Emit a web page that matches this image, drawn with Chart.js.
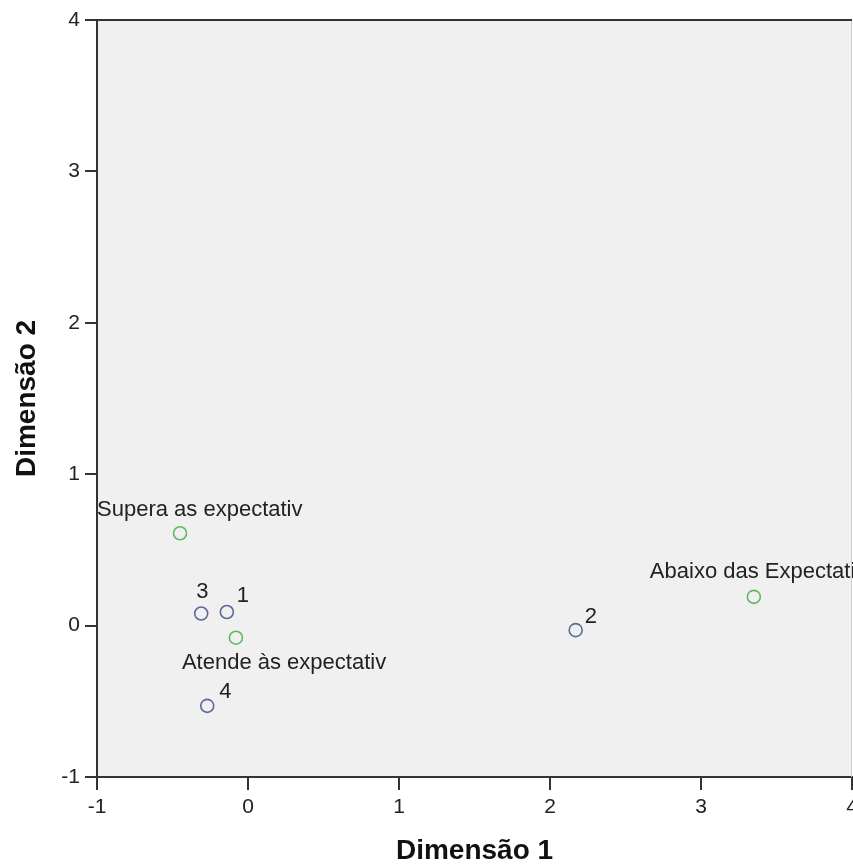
<!DOCTYPE html>
<html>
<head>
<meta charset="utf-8">
<script src="https://cdn.jsdelivr.net/npm/chart.js@4.4.1/dist/chart.umd.min.js"></script>
<style>
  html, body { margin: 0; padding: 0; background: #fff; }
  canvas { display: block; }
</style>
</head>
<body>
<canvas id="chart" width="853" height="865"></canvas>
<script>
// object points (blue)
const objectLabels = ["1", "2", "3", "4"];
const objectX = [-0.14, 2.17, -0.31, -0.27];
const objectY = [0.09, -0.03, 0.08, -0.53];

// category points (green)
const categoryLabels = ["Supera as expectativ", "Atende às expectativ", "Abaixo das Expectati"];
const categoryX = [-0.45, -0.08, 3.35];
const categoryY = [0.61, -0.08, 0.19];

const xTicks = [-1, 0, 1, 2, 3, 4];
const yTicks = [-1, 0, 1, 2, 3, 4];

const FONT = "'Liberation Sans', Arial, sans-serif";

// label offsets from point centre (px), left aligned
const objectLabelOffsets = [[10, -16], [9, -13], [-5, -22], [12, -14]];
const categoryLabelOffsets = [[-83, -23], [-54, 25], [-104, -25]];

const plotBackground = {
  id: "plotBackground",
  beforeDraw(chart) {
    const { ctx, chartArea: a } = chart;
    ctx.save();
    ctx.fillStyle = "#f0f0f0";
    ctx.fillRect(a.left, a.top, a.right - a.left, a.bottom - a.top);
    ctx.restore();
  },
  afterDraw(chart) {
    const { ctx, chartArea: a } = chart;
    ctx.save();
    ctx.strokeStyle = "#cfcfcf";
    ctx.lineWidth = 1;
    ctx.beginPath();
    ctx.moveTo(a.right - 0.5, a.top);
    ctx.lineTo(a.right - 0.5, a.bottom);
    ctx.stroke();
    ctx.strokeStyle = "#333";
    ctx.lineWidth = 2;
    ctx.beginPath();
    ctx.moveTo(a.left, a.top);
    ctx.lineTo(a.right, a.top);
    ctx.stroke();
    ctx.restore();
  },
};

const pointLabels = {
  id: "pointLabels",
  afterDatasetsDraw(chart) {
    const { ctx } = chart;
    const sets = [
      [0, objectLabels, objectLabelOffsets],
      [1, categoryLabels, categoryLabelOffsets],
    ];
    ctx.save();
    ctx.font = "22px " + FONT;
    ctx.fillStyle = "#222";
    ctx.textAlign = "left";
    ctx.textBaseline = "middle";
    sets.forEach(([idx, labels, offsets]) => {
      const meta = chart.getDatasetMeta(idx);
      meta.data.forEach((pt, i) => {
        ctx.fillText(labels[i], pt.x + offsets[i][0], pt.y + offsets[i][1]);
      });
    });
    ctx.restore();
  },
};

new Chart(document.getElementById("chart"), {
  type: "scatter",
  data: {
    datasets: [
      {
        label: "Objetos",
        data: objectX.map((x, i) => ({ x, y: objectY[i] })),
        borderColor: "#5a6a98",
        backgroundColor: "rgba(0,0,0,0)",
        borderWidth: 1.6,
        pointRadius: 6.5,
      },
      {
        label: "Categorias",
        data: categoryX.map((x, i) => ({ x, y: categoryY[i] })),
        borderColor: "#62b862",
        backgroundColor: "rgba(0,0,0,0)",
        borderWidth: 1.6,
        pointRadius: 6.5,
      },
    ],
  },
  options: {
    responsive: false,
    animation: false,
    layout: { autoPadding: false, padding: { top: 20, right: 1, left: 0, bottom: 0 } },
    plugins: {
      legend: { display: false },
      tooltip: { enabled: false },
    },
    scales: {
      x: {
        type: "linear",
        min: xTicks[0],
        max: xTicks[xTicks.length - 1],
        afterBuildTicks: (s) => { s.ticks = xTicks.map((v) => ({ value: v })); },
        afterFit: (s) => { s.height = 88; s.paddingLeft = 0; s.paddingRight = 0; },
        grid: { drawOnChartArea: false, drawTicks: true, tickLength: 13, color: "#333", lineWidth: 2 },
        border: { display: true, color: "#333", width: 2 },
        ticks: { color: "#222", padding: 5, font: { family: FONT, size: 21 }, maxRotation: 0 },
        title: {
          display: true,
          text: "Dimensão 1",
          color: "#111",
          font: { family: FONT, size: 28, weight: "bold", lineHeight: 1 },
          padding: { top: 0, bottom: 0 },
        },
      },
      y: {
        type: "linear",
        min: yTicks[0],
        max: yTicks[yTicks.length - 1],
        afterBuildTicks: (s) => { s.ticks = yTicks.map((v) => ({ value: v })); },
        afterFit: (s) => { s.width = 97; s.paddingTop = 0; s.paddingBottom = 0; },
        grid: { drawOnChartArea: false, drawTicks: true, tickLength: 12, color: "#333", lineWidth: 2 },
        border: { display: true, color: "#333", width: 2 },
        ticks: { color: "#222", padding: 5, font: { family: FONT, size: 21 } },
        title: {
          display: true,
          text: "Dimensão 2",
          color: "#111",
          font: { family: FONT, size: 28, weight: "bold", lineHeight: 1 },
          padding: { top: 13, bottom: 0 },
        },
      },
    },
  },
  plugins: [plotBackground, pointLabels],
});
</script>
</body>
</html>
